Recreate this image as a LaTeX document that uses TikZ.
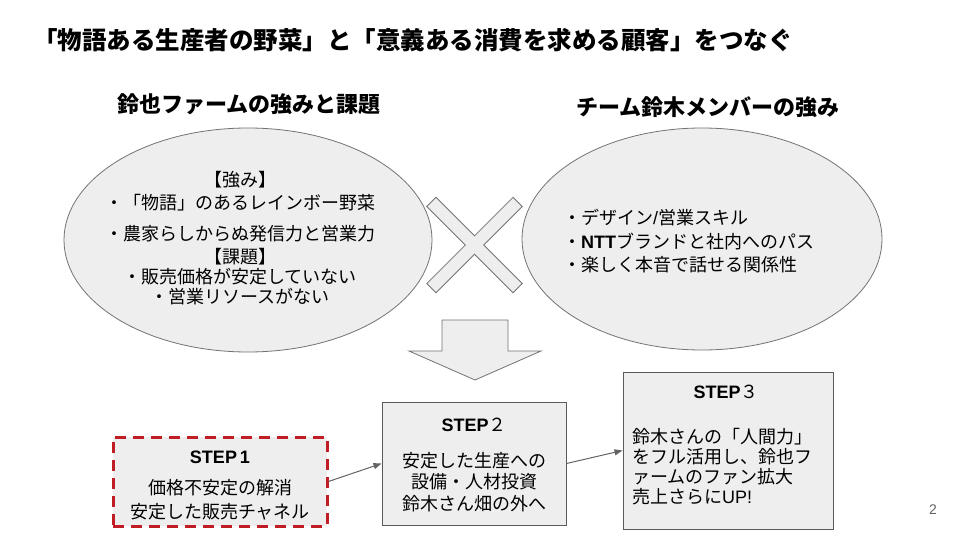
\documentclass[tikz,border=0pt]{standalone}
\usepackage{fontspec}
\setmainfont{Noto Sans CJK JP}
\newfontfamily\lat{Liberation Sans}
\usetikzlibrary{shapes.geometric,arrows.meta}
\definecolor{shapefill}{RGB}{238,238,238}
\definecolor{shapeline}{RGB}{115,115,115}
\definecolor{boxline}{RGB}{89,89,89}
\definecolor{dashred}{RGB}{192,30,36}
\definecolor{arrowgray}{RGB}{100,100,100}
\definecolor{pagegray}{RGB}{100,100,100}
\begin{document}
\begin{tikzpicture}[x=1pt,y=-1pt,
  bubble/.style={ellipse, draw=shapeline, fill=shapefill, line width=0.8pt, inner sep=0pt},
  stepbox/.style={draw=boxline, fill=shapefill, line width=1pt, inner sep=0pt},
  redbox/.style={draw=dashred, fill=shapefill, line width=3pt, dash pattern=on 11pt off 7pt, inner sep=0pt},
  symbolshape/.style={draw=shapeline, fill=shapefill, line width=0.8pt},
  bodytext/.style={font=\fontsize{18}{21}\selectfont, inner sep=0pt},
  steptitle/.style={font=\fontsize{18}{21}\selectfont, inner sep=0pt},
  heading/.style={font=\fontsize{22}{26}\selectfont\bfseries, inner sep=0pt},
  link/.style={-{Triangle[length=8pt,width=6pt]}, draw=arrowgray, line width=1pt}]
\useasboundingbox[fill=white] (0,0) rectangle (960,540);

% title
\node[font=\fontsize{24.5}{28}\selectfont\bfseries, anchor=west, inner sep=0pt] (title) at (33,40)
  {「物語ある生産者の野菜」と「意義ある消費を求める顧客」をつなぐ};

% headings
\node[heading] (hleft) at (249,104) {鈴也ファームの強みと課題};
\node[heading] (hright) at (708,107) {チーム鈴木メンバーの強み};

% ellipses
\node[bubble, minimum width=368pt, minimum height=224pt] (left) at (248,240) {};
\node[bubble, minimum width=360pt, minimum height=222pt] (right) at (702,239) {};

\node[bodytext, align=center] (lefttext) at (240,238.5)
  {【強み】\\[2pt]
   ・「物語」のあるレインボー野菜\\[10pt]
   ・農家らしからぬ発信力と営業力\\[2pt]
   【課題】\\[-1pt]
   ・販売価格が安定していない\\[-1pt]
   ・営業リソースがない};

\node[bodytext, align=left, anchor=west, font=\fontsize{18}{23.5}\selectfont] (righttext) at (563,241.5)
  {・デザイン{\lat /}営業スキル\\
   ・{\lat\bfseries NTT}ブランドと社内へのパス\\
   ・楽しく本音で話せる関係性};

% cross
\begin{scope}[shift={(474.5,245)}, rotate=45]
  \draw[symbolshape] (6.5,6.5) -- (61,6.5) -- (61,-6.5) -- (6.5,-6.5) -- (6.5,-61) -- (-6.5,-61)
    -- (-6.5,-6.5) -- (-61,-6.5) -- (-61,6.5) -- (-6.5,6.5) -- (-6.5,61) -- (6.5,61) -- cycle;
\end{scope}

% down arrow
\draw[symbolshape] (442,320) -- (508,320) -- (508,351) -- (541,351) -- (475,380)
  -- (409,351) -- (442,351) -- cycle;

% step boxes
\node[redbox, minimum width=214pt, minimum height=89pt] (s1) at (220,481.5) {};
\node[stepbox, minimum width=184pt, minimum height=123pt] (s2) at (474,463.5) {};
\node[stepbox, minimum width=210pt, minimum height=157pt] (s3) at (728,450.5) {};

\node[steptitle] (s1t) at (220,457) {{\lat\bfseries STEP\,1}};
\node[bodytext, align=center, font=\fontsize{18}{24}\selectfont] (s1b) at (220,500)
  {価格不安定の解消\\安定した販売チャネル};

\node[steptitle] (s2t) at (474,425) {{\lat\bfseries STEP}２};
\node[bodytext, align=center, font=\fontsize{18}{21.5}\selectfont] (s2b) at (474,482)
  {安定した生産への\\設備・人材投資\\鈴木さん畑の外へ};

\node[steptitle] (s3t) at (726,392) {{\lat\bfseries STEP}３};
\node[bodytext, align=left, anchor=west, font=\fontsize{18}{20}\selectfont] (s3b) at (632,467)
  {鈴木さんの「人間力」\\をフル活用し、鈴也フ\\ァームのファン拡大\\売上さらに{\lat UP!}};

% connectors
\draw[link] (s1.east) -- (s2.west);
\draw[link] (s2.east) -- (s3.west);

% page number
\node[font=\fontsize{14}{16}\selectfont\lat, text=pagegray, inner sep=0pt] (page) at (933,510) {2};
\end{tikzpicture}
\end{document}
